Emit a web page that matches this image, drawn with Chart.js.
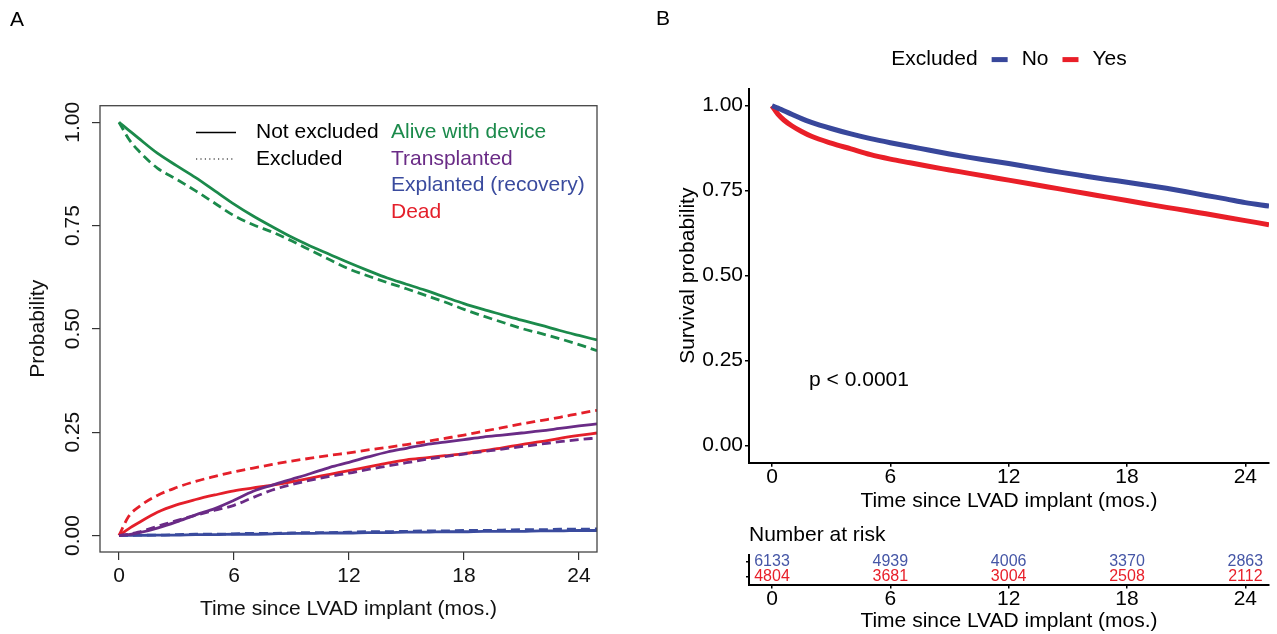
<!DOCTYPE html>
<html>
<head>
<meta charset="utf-8">
<script src="https://cdn.jsdelivr.net/npm/chart.js@4.4.1/dist/chart.umd.min.js"></script>
<style>
  body { margin: 0; background: #fff; }
  #wrap { position: relative; width: 1277px; height: 634px; overflow: hidden; }
  canvas { position: absolute; }
</style>
</head>
<body>
<div id="wrap">
  <canvas id="chartA" width="640" height="634" style="left:0;top:0"></canvas>
  <canvas id="chartB" width="637" height="520" style="left:640px;top:0"></canvas>
  <canvas id="chartRisk" width="637" height="114" style="left:640px;top:520px"></canvas>
</div>
<script>
const FONT = "'Liberation Sans', Arial, Helvetica, sans-serif";
Chart.defaults.font.family = FONT;
Chart.defaults.color = '#000';

// ---- panel A: state probabilities, not excluded vs excluded
const monthsA = [0, 0.5, 1, 2, 3, 4, 5, 6, 7, 8, 9, 10, 11, 12, 13, 14, 15, 16, 17, 18, 19, 20, 21, 22, 23, 24, 24.94];
const aliveNotExcl = [1.000, 0.981, 0.962, 0.925, 0.895, 0.866, 0.834, 0.802, 0.773, 0.747, 0.722, 0.700, 0.680, 0.660, 0.641, 0.623, 0.608, 0.593, 0.577, 0.561, 0.547, 0.534, 0.521, 0.509, 0.496, 0.484, 0.473];
const aliveExcl = [1.000, 0.960, 0.932, 0.889, 0.862, 0.834, 0.804, 0.774, 0.752, 0.734, 0.713, 0.690, 0.667, 0.645, 0.628, 0.612, 0.597, 0.581, 0.565, 0.547, 0.531, 0.516, 0.501, 0.489, 0.476, 0.462, 0.447];
const txNotExcl = [0, 0.002, 0.006, 0.018, 0.033, 0.050, 0.065, 0.085, 0.107, 0.122, 0.136, 0.150, 0.165, 0.177, 0.190, 0.202, 0.211, 0.220, 0.226, 0.232, 0.238, 0.243, 0.248, 0.253, 0.259, 0.265, 0.270];
const txExcl = [0, 0.003, 0.008, 0.022, 0.036, 0.049, 0.061, 0.073, 0.092, 0.110, 0.123, 0.134, 0.143, 0.151, 0.160, 0.168, 0.176, 0.184, 0.191, 0.197, 0.203, 0.209, 0.215, 0.221, 0.227, 0.232, 0.236];
const explNotExcl = [0, 0, 0, 0.001, 0.001, 0.002, 0.002, 0.003, 0.003, 0.004, 0.005, 0.005, 0.006, 0.006, 0.007, 0.007, 0.008, 0.008, 0.009, 0.009, 0.010, 0.010, 0.010, 0.011, 0.011, 0.012, 0.012];
const explExcl = [0, 0, 0.001, 0.001, 0.002, 0.003, 0.003, 0.004, 0.005, 0.005, 0.006, 0.007, 0.007, 0.008, 0.009, 0.009, 0.010, 0.011, 0.011, 0.012, 0.012, 0.013, 0.014, 0.014, 0.015, 0.015, 0.016];
const deadNotExcl = [0, 0.016, 0.030, 0.056, 0.074, 0.087, 0.098, 0.108, 0.115, 0.122, 0.130, 0.139, 0.148, 0.157, 0.166, 0.175, 0.183, 0.188, 0.193, 0.198, 0.205, 0.212, 0.220, 0.227, 0.235, 0.242, 0.248];
const deadExcl = [0, 0.046, 0.068, 0.097, 0.116, 0.131, 0.143, 0.154, 0.163, 0.172, 0.180, 0.187, 0.194, 0.200, 0.207, 0.213, 0.220, 0.227, 0.235, 0.243, 0.252, 0.261, 0.270, 0.278, 0.286, 0.295, 0.303];
const stateNames = ['Alive with device', 'Transplanted', 'Explanted (recovery)', 'Dead'];
const groupNamesA = ['Not excluded', 'Excluded'];
const yTicksA = [0, 0.25, 0.5, 0.75, 1];

// ---- panel B: Kaplan-Meier survival by exclusion
const monthsB = [0, 0.3, 0.6, 1, 1.5, 2, 3, 4, 5, 6, 7, 8, 9, 10, 11, 12, 13, 14, 15, 16, 17, 18, 19, 20, 21, 22, 23, 24, 25.2];
const survNo = [1.000, 0.993, 0.985, 0.975, 0.962, 0.951, 0.933, 0.917, 0.903, 0.891, 0.880, 0.869, 0.858, 0.848, 0.839, 0.830, 0.820, 0.810, 0.801, 0.792, 0.783, 0.775, 0.766, 0.757, 0.747, 0.736, 0.726, 0.715, 0.705];
const survYes = [1.000, 0.975, 0.958, 0.941, 0.924, 0.910, 0.890, 0.873, 0.856, 0.843, 0.832, 0.821, 0.811, 0.801, 0.791, 0.781, 0.771, 0.761, 0.751, 0.741, 0.731, 0.721, 0.711, 0.701, 0.692, 0.682, 0.672, 0.662, 0.650];
const yTicksB = [0, 0.25, 0.5, 0.75, 1];

// ---- number at risk
const riskMonths = [0, 6, 12, 18, 24];
const riskNo = [6133, 4939, 4006, 3370, 2863];
const riskYes = [4804, 3681, 3004, 2508, 2112];

const xTicks = [0, 6, 12, 18, 24];
const xTitle = 'Time since LVAD implant (mos.)';
const pValueText = 'p < 0.0001';
const pValuePos = [1.88, 0.193];

const stateColors = ['#1b8a4b', '#6a2b86', '#3a4b9e', '#e41f2a'];
const colNo = '#38479b';
const colYes = '#e91f28';

const pts = (xs, ys) => xs.map((x, i) => ({ x: x, y: ys[i] }));
const fixedTicks = vals => scale => { scale.ticks = vals.map(v => ({ value: v })); };

// ---------- panel A ----------
const seriesA = [
  [aliveNotExcl, aliveExcl],
  [txNotExcl, txExcl],
  [explNotExcl, explExcl],
  [deadNotExcl, deadExcl]
];
const datasetsA = [];
seriesA.forEach((pair, s) => {
  pair.forEach((vals, g) => {
    datasetsA.push({
      label: stateNames[s] + ' - ' + groupNamesA[g],
      data: pts(monthsA, vals),
      borderColor: stateColors[s],
      borderWidth: 2.8,
      borderDash: g === 1 ? [9, 5] : [],
      pointRadius: 0,
      cubicInterpolationMode: 'monotone'
    });
  });
});

const panelA = {
  id: 'panelA',
  afterDraw(chart) {
    const { ctx, chartArea: a } = chart;
    const ys = chart.scales.y;
    ctx.save();
    // box round the plot region
    ctx.strokeStyle = '#444';
    ctx.lineWidth = 1.3;
    ctx.strokeRect(a.left, a.top, a.right - a.left, a.bottom - a.top);

    // y tick labels rotated like base R
    ctx.font = '21px ' + FONT;
    ctx.fillStyle = '#111';
    ctx.textAlign = 'center';
    ctx.textBaseline = 'middle';
    yTicksA.forEach(v => {
      ctx.save();
      ctx.translate(a.left - 26.5, ys.getPixelForValue(v));
      ctx.rotate(-Math.PI / 2);
      ctx.fillText(v.toFixed(2), 0, 0);
      ctx.restore();
    });

    // legend
    ctx.textAlign = 'left';
    ctx.strokeStyle = '#000';
    ctx.lineWidth = 1.5;
    ctx.beginPath(); ctx.moveTo(196, 132.5); ctx.lineTo(236, 132.5); ctx.stroke();
    ctx.lineWidth = 1.2;
    ctx.setLineDash([1.2, 3.2]);
    ctx.beginPath(); ctx.moveTo(196, 159); ctx.lineTo(234, 159); ctx.stroke();
    ctx.setLineDash([]);
    ctx.fillStyle = '#000';
    groupNamesA.forEach((g, i) => ctx.fillText(g, 256, 132.5 + i * 26.5));
    stateNames.forEach((s, i) => {
      ctx.fillStyle = stateColors[i];
      ctx.fillText(s, 391, 132.5 + i * 26.5);
    });

    ctx.fillStyle = '#000';
    ctx.fillText('A', 10, 20);
    ctx.restore();
  }
};

new Chart(document.getElementById('chartA'), {
  type: 'line',
  data: { datasets: datasetsA },
  options: {
    responsive: false,
    animation: false,
    layout: { padding: { left: 0, right: 43, top: 105.7, bottom: 0 } },
    plugins: { legend: { display: false }, tooltip: { enabled: false } },
    scales: {
      x: {
        type: 'linear', min: -0.991, max: 24.94,
        afterBuildTicks: fixedTicks(xTicks),
        afterFit: s => { s.height = 82; },
        ticks: { font: { size: 21, lineHeight: 1 }, padding: 6, color: '#111', callback: v => String(v) },
        grid: { drawOnChartArea: false, tickLength: 8, color: '#333', lineWidth: 1.2 },
        border: { display: false },
        title: { display: true, text: xTitle, color: '#111', font: { size: 21, lineHeight: 1 }, padding: { top: 0, bottom: 14.2 } }
      },
      y: {
        type: 'linear', min: -0.04, max: 1.04,
        afterBuildTicks: fixedTicks(yTicksA),
        afterFit: s => { s.width = 100; },
        ticks: { display: false },
        grid: { drawOnChartArea: false, tickLength: 8, color: '#333', lineWidth: 1.2 },
        border: { display: false },
        title: { display: true, text: 'Probability', color: '#111', font: { size: 21, lineHeight: 1 }, padding: { top: 28, bottom: 0 } }
      }
    }
  },
  plugins: [panelA]
});

// ---------- panel B ----------
const panelB = {
  id: 'panelB',
  afterDraw(chart) {
    const { ctx, chartArea: a } = chart;
    const sets = chart.data.datasets;
    ctx.save();
    ctx.font = '21px ' + FONT;
    ctx.textBaseline = 'middle';
    ctx.textAlign = 'left';
    const gap = 14, sw = 16, y = 59.6;
    const title = 'Excluded';
    let total = ctx.measureText(title).width;
    sets.forEach(d => { total += gap + sw + gap + ctx.measureText(d.label).width; });
    let x = (a.left + a.right) / 2 - total / 2;
    ctx.fillStyle = '#000';
    ctx.fillText(title, x, y);
    x += ctx.measureText(title).width;
    sets.forEach(d => {
      x += gap;
      ctx.fillStyle = d.borderColor;
      ctx.fillRect(x, y - 2.5, sw, 5);
      x += sw + gap;
      ctx.fillStyle = '#000';
      ctx.fillText(d.label, x, y);
      x += ctx.measureText(d.label).width;
    });

    ctx.fillText(pValueText, chart.scales.x.getPixelForValue(pValuePos[0]), chart.scales.y.getPixelForValue(pValuePos[1]));
    ctx.fillText('B', 16, 19);
    ctx.restore();
  }
};

const axisB = {
  ticks: { font: { size: 21, lineHeight: 1 }, color: '#000' },
  grid: { drawOnChartArea: false, tickLength: 4, color: '#000', lineWidth: 1.5 },
  border: { display: true, color: '#000', width: 2 }
};

new Chart(document.getElementById('chartB'), {
  type: 'line',
  data: {
    datasets: [
      { label: 'No', data: pts(monthsB, survNo), borderColor: colNo, borderWidth: 5, pointRadius: 0, cubicInterpolationMode: 'monotone' },
      { label: 'Yes', data: pts(monthsB, survYes), borderColor: colYes, borderWidth: 5, pointRadius: 0, cubicInterpolationMode: 'monotone' }
    ]
  },
  options: {
    responsive: false,
    animation: false,
    layout: { padding: { left: 0, right: 8, top: 88.7, bottom: 0 } },
    plugins: { legend: { display: false }, tooltip: { enabled: false } },
    scales: {
      x: {
        type: 'linear', min: -1.166, max: 25.2,
        afterBuildTicks: fixedTicks(xTicks),
        afterFit: s => { s.height = 57.3; },
        ticks: { ...axisB.ticks, padding: 0, callback: v => String(v) },
        grid: axisB.grid,
        border: axisB.border,
        title: { display: true, text: xTitle, font: { size: 21, lineHeight: 1 }, padding: { top: 0, bottom: 7.8 } }
      },
      y: {
        type: 'linear', min: -0.05, max: 1.05,
        afterBuildTicks: fixedTicks(yTicksB),
        afterFit: s => { s.width = 109; },
        ticks: { ...axisB.ticks, padding: 2, callback: v => v.toFixed(2) },
        grid: axisB.grid,
        border: axisB.border,
        title: { display: true, text: 'Survival probability', font: { size: 21, lineHeight: 1 }, padding: { top: 37.5, bottom: 0 } }
      }
    }
  },
  plugins: [panelB]
});

// ---------- number at risk ----------
const riskLabels = {
  id: 'riskLabels',
  afterDatasetsDraw(chart) {
    const { ctx } = chart;
    ctx.save();
    ctx.font = '16px ' + FONT;
    ctx.textAlign = 'center';
    ctx.textBaseline = 'middle';
    chart.data.datasets.forEach((d, i) => {
      ctx.fillStyle = d.textColor;
      chart.getDatasetMeta(i).data.forEach((el, j) => {
        ctx.fillText(String(d.data[j].n), el.x, el.y);
      });
    });
    ctx.restore();
  }
};

const riskPts = (vals, row) => riskMonths.map((t, i) => ({ x: t, y: row, n: vals[i] }));

new Chart(document.getElementById('chartRisk'), {
  type: 'scatter',
  data: {
    datasets: [
      { label: 'No', data: riskPts(riskNo, 0), pointRadius: 0, textColor: '#4556a6' },
      { label: 'Yes', data: riskPts(riskYes, 1), pointRadius: 0, textColor: '#e8202a' }
    ]
  },
  options: {
    responsive: false,
    animation: false,
    layout: { padding: { left: 0, right: 8, top: 0, bottom: 0 } },
    plugins: {
      legend: { display: false },
      tooltip: { enabled: false },
      title: {
        display: true, text: 'Number at risk', align: 'start', fullSize: false,
        color: '#000', font: { size: 21, weight: 'normal', lineHeight: 1 },
        padding: { top: 4.5, bottom: 9 }
      }
    },
    scales: {
      x: {
        type: 'linear', min: -1.166, max: 25.2,
        afterBuildTicks: fixedTicks(xTicks),
        afterFit: s => { s.height = 49.5; },
        ticks: { ...axisB.ticks, padding: 0, callback: v => String(v) },
        grid: axisB.grid,
        border: axisB.border,
        title: { display: true, text: xTitle, font: { size: 21, lineHeight: 1 }, padding: { top: 0, bottom: 2.5 } }
      },
      y: {
        type: 'linear', min: -0.5, max: 1.5, reverse: true,
        afterBuildTicks: fixedTicks([0, 1]),
        afterFit: s => { s.width = 109; },
        ticks: { display: false },
        grid: { drawOnChartArea: false, tickLength: 3, color: '#000', lineWidth: 1.5 },
        border: axisB.border
      }
    }
  },
  plugins: [riskLabels]
});
</script>
</body>
</html>
